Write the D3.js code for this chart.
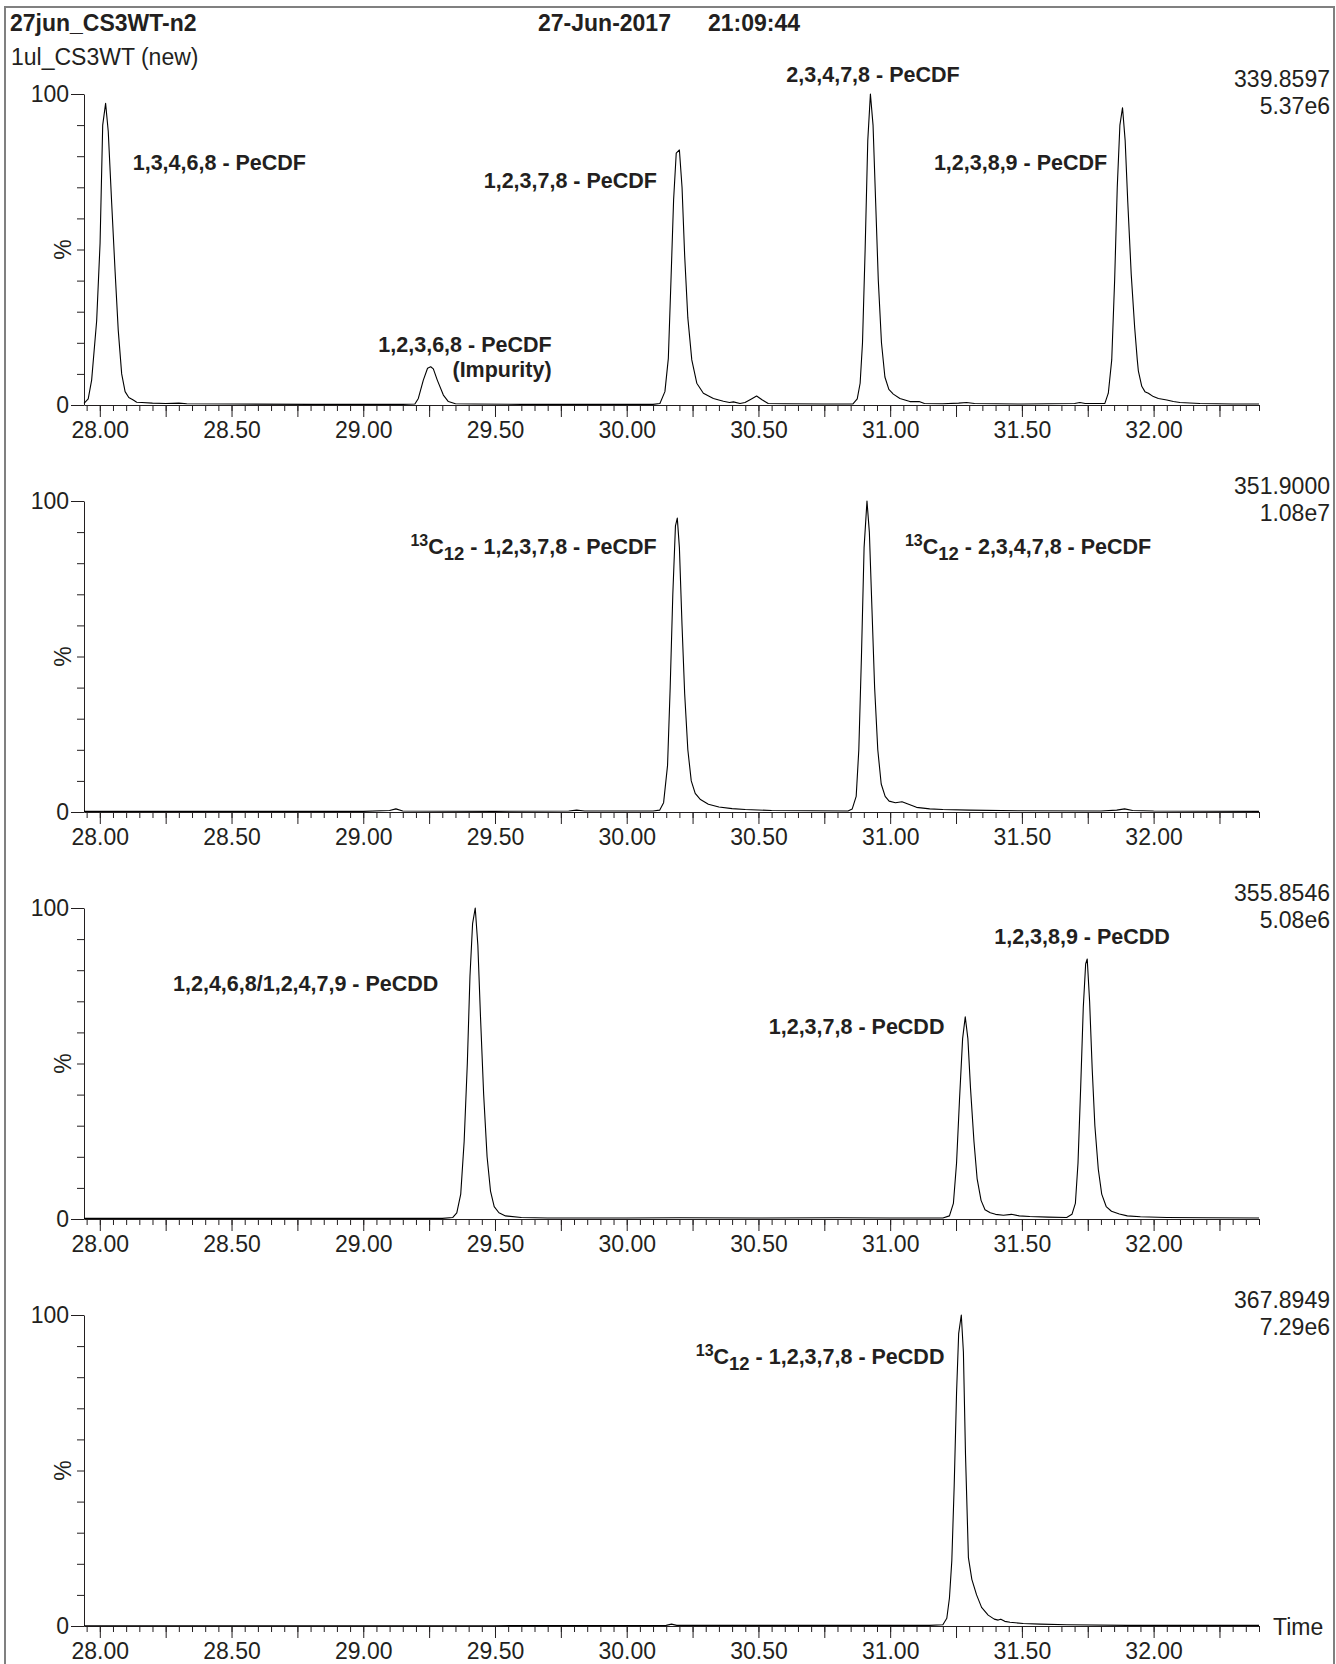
<!DOCTYPE html>
<html><head><meta charset="utf-8">
<script src="https://cdn.jsdelivr.net/npm/d3@7"></script>
<style>
html,body{margin:0;padding:0;background:#fff;}
svg{display:block;}
text{font-family:"Liberation Sans",Arial,Helvetica,sans-serif;fill:#231f20;}
</style></head><body>
<svg id="c" width="1336" height="1664"></svg>
<script>
// ---------- header texts ----------
const headerTitle = "27jun_CS3WT-n2";
const headerSample = "1ul_CS3WT (new)";
const headerDate = "27-Jun-2017";
const headerTime = "21:09:44";

// ---------- per-panel labels ----------
const massLabels = ["339.8597", "351.9000", "355.8546", "367.8949"];
const intensityLabels = ["5.37e6", "1.08e7", "5.08e6", "7.29e6"];

// ---------- axis ticks ----------
const xLabelTicks = [28.00, 28.50, 29.00, 29.50, 30.00, 30.50, 31.00, 31.50, 32.00];
const yLabelTicks = [0, 100];
const yMinorTicks = [10, 20, 30, 40, 50, 60, 70, 80, 90];
const xDomain = [27.94, 32.40];

// ---------- traces: [retention time (min), relative intensity %] ----------
const trace339 = [
  [27.94,0.5],[27.956,2],[27.969,8],[27.988,27],[28.001,52],[28.011,90],[28.022,97],[28.032,88],
  [28.045,65],[28.058,43],[28.07,24],[28.083,10],[28.096,4.3],[28.11,2.4],[28.127,1.6],[28.14,0.9],
  [28.16,0.8],[28.2,0.6],[28.25,0.5],[28.3,0.6],[28.33,0.4],[28.5,0.3],[28.8,0.2],[29.0,0.2],
  [29.15,0.2],[29.196,0.3],[29.209,2.1],[29.228,8],[29.244,11.8],[29.256,12.3],[29.266,11.6],
  [29.281,8],[29.304,3.2],[29.323,1.1],[29.35,0.4],[29.42,0.3],[29.6,0.2],[29.9,0.2],[30.1,0.2],
  [30.126,0.5],[30.145,4.3],[30.158,15],[30.168,40],[30.178,66],[30.188,81],[30.2,82],[30.21,70],
  [30.22,48],[30.232,28],[30.247,14.5],[30.266,7],[30.291,3.8],[30.329,2.1],[30.367,1.2],[30.39,0.8],
  [30.405,1.0],[30.43,0.5],[30.449,0.8],[30.47,1.8],[30.493,2.9],[30.515,1.6],[30.537,0.5],[30.6,0.4],
  [30.75,0.3],[30.858,0.3],[30.875,2],[30.886,7],[30.895,20],[30.905,50],[30.915,85],[30.925,100],
  [30.935,90],[30.945,65],[30.955,40],[30.967,20],[30.98,9],[30.995,5],[31.012,3.5],[31.037,2.1],
  [31.075,1.1],[31.11,1.1],[31.13,0.5],[31.2,0.4],[31.26,0.6],[31.29,0.8],[31.32,0.5],[31.5,0.3],
  [31.7,0.5],[31.72,0.8],[31.74,0.5],[31.815,0.5],[31.828,3.8],[31.841,14.5],[31.852,40],[31.862,70],
  [31.872,90],[31.882,95.6],[31.892,85],[31.902,65],[31.915,42],[31.928,25],[31.938,14.5],[31.942,11],
  [31.955,6],[31.967,4.3],[31.98,3.8],[31.999,2.7],[32.018,2.1],[32.05,1.6],[32.075,1.1],[32.1,0.8],
  [32.176,0.5],[32.3,0.3],[32.4,0.3]
];
const trace351 = [
  [27.94,0.2],[28.5,0.2],[29.0,0.2],[29.1,0.5],[29.124,1],[29.15,0.3],[29.5,0.2],[29.78,0.3],
  [29.81,0.6],[29.84,0.3],[30.1,0.3],[30.125,0.6],[30.14,3],[30.155,15],[30.165,40],[30.175,70],
  [30.185,92],[30.192,94.5],[30.2,85],[30.21,60],[30.22,38],[30.232,20],[30.245,10],[30.26,6],
  [30.28,4],[30.31,2.5],[30.35,1.6],[30.4,1.1],[30.45,0.8],[30.55,0.5],[30.7,0.4],[30.84,0.3],
  [30.856,1],[30.871,5],[30.881,20],[30.891,50],[30.901,85],[30.912,100],[30.921,90],[30.931,65],
  [30.941,40],[30.953,20],[30.966,9],[30.981,5],[30.996,3.5],[31.02,3],[31.045,3.3],[31.07,2.5],
  [31.1,1.5],[31.15,1],[31.2,0.8],[31.3,0.6],[31.5,0.4],[31.8,0.3],[31.86,0.6],[31.89,1],
  [31.92,0.5],[32.0,0.3],[32.4,0.2]
];
const trace355 = [
  [27.94,0.2],[28.5,0.2],[29.0,0.2],[29.3,0.2],[29.34,0.5],[29.355,2],[29.37,8],[29.383,25],
  [29.395,50],[29.405,78],[29.415,95],[29.425,100],[29.435,88],[29.445,65],[29.457,40],[29.47,20],
  [29.483,9],[29.497,4],[29.515,2],[29.54,1],[29.6,0.5],[29.7,0.3],[30.0,0.3],[30.2,0.4],
  [30.5,0.3],[30.8,0.4],[31.0,0.3],[31.2,0.3],[31.225,1],[31.24,5],[31.252,18],[31.263,38],
  [31.275,58],[31.285,65],[31.295,58],[31.305,42],[31.318,25],[31.33,13],[31.345,6],[31.36,3],
  [31.38,2],[31.4,1.5],[31.43,1.2],[31.46,1.5],[31.49,1],[31.53,0.8],[31.6,0.6],[31.67,0.5],
  [31.69,1.5],[31.703,5],[31.713,18],[31.723,42],[31.733,68],[31.742,82],[31.748,83.6],[31.757,70],
  [31.767,48],[31.777,30],[31.79,16],[31.803,8],[31.82,4],[31.84,2.5],[31.87,1.6],[31.9,1],
  [31.95,0.7],[32.05,0.5],[32.2,0.4],[32.4,0.3]
];
const trace367 = [
  [27.94,0.1],[28.5,0.1],[29.5,0.1],[30.15,0.2],[30.17,0.6],[30.19,0.2],[30.8,0.2],[31.15,0.2],
  [31.2,0.4],[31.215,2.5],[31.225,9],[31.234,21],[31.243,45],[31.252,75],[31.26,94],[31.27,100],
  [31.278,88],[31.286,55],[31.297,22],[31.31,15],[31.328,10],[31.347,6],[31.372,3.5],[31.395,2.2],
  [31.41,1.9],[31.42,2.2],[31.435,1.5],[31.455,1.2],[31.505,0.8],[31.57,0.6],[31.67,0.4],[31.9,0.2],
  [32.4,0.2]
];
const traces = [trace339, trace351, trace355, trace367];

// ---------- peak annotations (text parts; anchor point in data units) ----------
const peakLabelText = [
  {panel:0, parts:[["1,3,4,6,8 - PeCDF","n"]], t:28.125, pct:75.6, anchor:"start"},
  {panel:0, parts:[["1,2,3,7,8 - PeCDF","n"]], t:30.115, pct:69.8, anchor:"end"},
  {panel:0, parts:[["2,3,4,7,8 - PeCDF","n"]], t:30.606, pct:103.9, anchor:"start"},
  {panel:0, parts:[["1,2,3,8,9 - PeCDF","n"]], t:31.166, pct:75.6, anchor:"start"},
  {panel:0, parts:[["1,2,3,6,8 - PeCDF","n"]], t:29.715, pct:17.1, anchor:"end"},
  {panel:0, parts:[["(Impurity)","n"]], t:29.715, pct:8.9, anchor:"end"},
  {panel:1, parts:[["13","sup"],["C","n"],["12","sub"],[" - 1,2,3,7,8 - PeCDF","n"]], t:30.114, pct:83, anchor:"end"},
  {panel:1, parts:[["13","sup"],["C","n"],["12","sub"],[" - 2,3,4,7,8 - PeCDF","n"]], t:31.056, pct:83, anchor:"start"},
  {panel:2, parts:[["1,2,4,6,8/1,2,4,7,9 - PeCDD","n"]], t:28.278, pct:73.2, anchor:"start"},
  {panel:2, parts:[["1,2,3,7,8 - PeCDD","n"]], t:31.206, pct:59.6, anchor:"end"},
  {panel:2, parts:[["1,2,3,8,9 - PeCDD","n"]], t:31.395, pct:88.3, anchor:"start"},
  {panel:3, parts:[["13","sup"],["C","n"],["12","sub"],[" - 1,2,3,7,8 - PeCDD","n"]], t:31.206, pct:84.3, anchor:"end"}
];

// ---------- layout ----------
const svg = d3.select("#c");
const panelY0 = [405, 812, 1219, 1626];
const plotH = 311;
const xLeft = 84, xRight = 1259;
const FS = 23, LFS = 21.5;

svg.append("rect").attr("x",5).attr("y",7).attr("width",1329).attr("height",1680)
  .attr("fill","none").attr("stroke","#808080").attr("stroke-width",2);

svg.append("text").attr("x",10).attr("y",31).attr("font-size",FS).attr("font-weight","bold").text(headerTitle);
svg.append("text").attr("x",11).attr("y",65).attr("font-size",FS).text(headerSample);
svg.append("text").attr("x",538).attr("y",31).attr("font-size",FS).attr("font-weight","bold").text(headerDate);
svg.append("text").attr("x",708).attr("y",31).attr("font-size",FS).attr("font-weight","bold").text(headerTime);

const x = d3.scaleLinear().domain(xDomain).range([xLeft, xRight]);
const minorX = d3.range(27.95, 32.4001, 0.05).map(v => +v.toFixed(2));
const majorX = d3.range(28.0, 32.4001, 0.25).map(v => +v.toFixed(2));

traces.forEach((tr, i) => {
  const y0 = panelY0[i];
  const y = d3.scaleLinear().domain([0,100]).range([y0, y0 - plotH]);
  const g = svg.append("g");

  // x axis minor ticks + domain
  g.append("g").attr("transform",`translate(0,${y0})`)
    .call(d3.axisBottom(x).tickValues(minorX).tickSize(6).tickSizeOuter(0).tickFormat(""));
  const axMajor = g.append("g").attr("transform",`translate(0,${y0})`)
    .call(d3.axisBottom(x).tickValues(majorX).tickSize(12).tickSizeOuter(0).tickFormat(""));
  axMajor.select(".domain").remove();
  const axLab = g.append("g").attr("transform",`translate(0,${y0})`)
    .call(d3.axisBottom(x).tickValues(xLabelTicks).tickSize(0).tickPadding(17).tickFormat(d3.format(".2f")));
  axLab.select(".domain").remove();
  axLab.selectAll("text").attr("font-size",FS).attr("font-family",null).attr("fill","#231f20");

  // y axis
  g.append("g").attr("transform",`translate(${xLeft},0)`)
    .call(d3.axisLeft(y).tickValues(yMinorTicks).tickSize(7).tickSizeOuter(0).tickFormat(""));
  const ayLab = g.append("g").attr("transform",`translate(${xLeft},0)`)
    .call(d3.axisLeft(y).tickValues(yLabelTicks).tickSize(13).tickPadding(2).tickSizeOuter(0).tickFormat(d3.format("d")));
  ayLab.select(".domain").remove();
  ayLab.selectAll("text").attr("font-size",FS).attr("font-family",null).attr("fill","#231f20");
  g.selectAll(".domain, .tick line").attr("stroke","#231f20").attr("stroke-width",1);

  // % label
  g.append("text").attr("transform",`translate(71,${y0 - plotH/2}) rotate(-90)`)
    .attr("text-anchor","middle").attr("font-size",FS).text("%");

  // mass / intensity
  g.append("text").attr("x",1330).attr("y",y0 - plotH - 7).attr("text-anchor","end").attr("font-size",FS).text(massLabels[i]);
  g.append("text").attr("x",1330).attr("y",y0 - plotH + 20).attr("text-anchor","end").attr("font-size",FS).text(intensityLabels[i]);

  // trace
  g.append("path").datum(tr)
    .attr("d", d3.line().x(d => x(d[0])).y(d => y(d[1])))
    .attr("fill","none").attr("stroke","#000").attr("stroke-width",1.1).attr("stroke-linejoin","round");

  // peak labels
  peakLabelText.filter(l => l.panel === i).forEach(l => {
    const t = g.append("text").attr("x", x(l.t)).attr("y", y(l.pct))
      .attr("text-anchor", l.anchor).attr("font-weight","bold").attr("font-size",LFS)
      .style("white-space","pre");
    let shift = 0;
    l.parts.forEach(([s,k]) => {
      let target = 0, fs = LFS;
      if (k === "sup") { target = -8; fs = 16; }
      if (k === "sub") { target = 6; fs = 18.5; }
      t.append("tspan").attr("dy", target - shift).attr("font-size", fs).text(s);
      shift = target;
    });
  });
});

svg.append("text").attr("x",1273).attr("y",1635).attr("font-size",FS).text("Time");
</script>
</body></html>
